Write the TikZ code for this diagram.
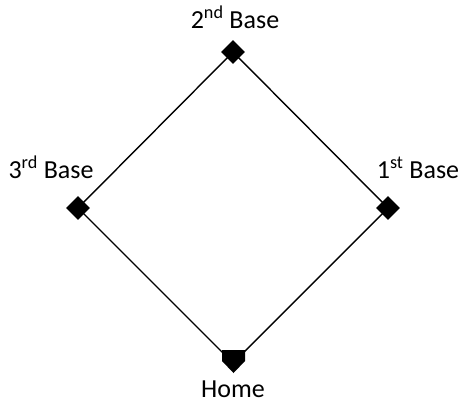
\documentclass[tikz,border=0pt]{standalone}
\usepackage{fontspec}
\setmainfont{Carlito}
\usetikzlibrary{shapes.geometric}
\begin{document}
\begin{tikzpicture}[x=1pt,y=-1pt,
  base/.style={diamond,fill=black,inner sep=0pt,minimum size=24pt},
  lbl/.style={anchor=base,inner sep=0pt,font=\fontsize{26}{30}\selectfont},
  path/.style={line width=1.4pt,black}]
\useasboundingbox (0,0) rectangle (462,405);
\coordinate (v2) at (233,52);
\coordinate (v3) at (78,208);
\coordinate (v1) at (388,208);
\coordinate (vh) at (233,363);
\draw[path] (v3) -- (v2) -- (v1) -- (vh) -- cycle;
\node[base] (b2) at (v2) {};
\node[base] (b3) at (v3) {};
\node[base] (b1) at (v1) {};
\fill (222,350) coordinate (h1) -- (245,350) -- (245,361) -- (233.5,373) -- (222,361) -- cycle;
\node[lbl] (l2) at (235,28) {2\textsuperscript{nd} Base};
\node[lbl] (l3) at (51,178) {3\textsuperscript{rd} Base};
\node[lbl] (l1) at (418,178) {1\textsuperscript{st} Base};
\node[lbl] (lh) at (233,397) {Home};
\end{tikzpicture}
\end{document}
